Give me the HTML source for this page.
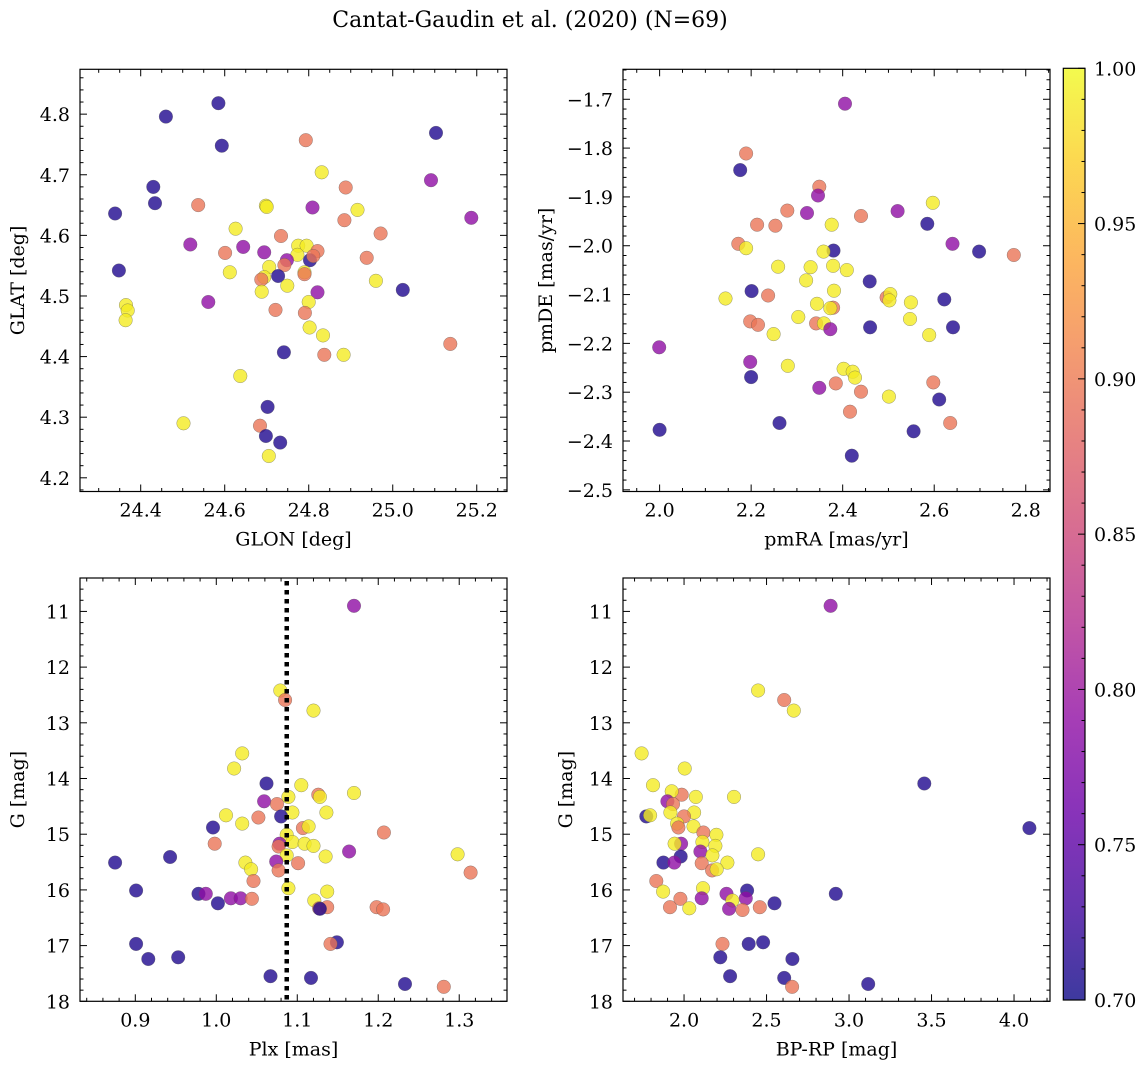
<!DOCTYPE html>
<html><head><meta charset="utf-8"><style>
html,body{margin:0;padding:0;background:#fff;}
svg{display:block;font-family:"DejaVu Serif","Liberation Serif",serif;}
</style></head><body>
<svg id="fig" width="1148" height="1068" viewBox="0 0 1148 1068" xmlns="http://www.w3.org/2000/svg">
<defs>
<linearGradient id="plasma" x1="0" y1="1" x2="0" y2="0">
<stop offset="0" stop-color="#0d0887"/><stop offset="0.1" stop-color="#41049d"/><stop offset="0.2" stop-color="#6a00a8"/><stop offset="0.3" stop-color="#8f0da4"/><stop offset="0.4" stop-color="#b12a90"/><stop offset="0.5" stop-color="#cc4778"/><stop offset="0.6" stop-color="#e16462"/><stop offset="0.7" stop-color="#f2844b"/><stop offset="0.8" stop-color="#fca636"/><stop offset="0.9" stop-color="#fcce25"/><stop offset="1" stop-color="#f0f921"/>
</linearGradient>
</defs>
<text x="530" y="27" font-size="22" text-anchor="middle">Cantat-Gaudin et al. (2020) (N=69)</text>
</svg>
<script>
// membership probability codes: B=0.71, P=0.79, S=0.895, Y=0.99
const glon = [24.585,24.46,24.593,24.793,25.103,25.091,24.831,24.43,24.434,24.339,24.537,24.698,24.700,24.809,24.888,24.916,24.885,25.187,24.626,24.734,24.971,24.518,24.644,24.601,24.694,24.775,24.795,24.821,24.773,24.803,24.748,24.742,24.811,24.938,24.348,24.612,24.706,24.727,24.694,24.687,24.749,24.79,24.79,24.821,24.688,24.96,25.024,24.365,24.369,24.364,24.561,24.8,24.721,24.791,24.802,24.834,24.837,24.883,24.741,25.137,24.637,24.502,24.702,24.684,24.698,24.732,24.705];
const glat = [4.818,4.796,4.748,4.757,4.769,4.691,4.704,4.68,4.653,4.636,4.650,4.649,4.647,4.646,4.679,4.642,4.625,4.629,4.611,4.599,4.603,4.585,4.581,4.571,4.572,4.583,4.583,4.574,4.568,4.559,4.559,4.551,4.566,4.563,4.542,4.539,4.548,4.533,4.531,4.527,4.517,4.539,4.536,4.506,4.507,4.525,4.51,4.485,4.476,4.46,4.49,4.49,4.477,4.472,4.448,4.435,4.403,4.403,4.407,4.421,4.368,4.290,4.317,4.286,4.269,4.258,4.236];
const prob1 = "BBBSBPYBBBSYYPSYSPYSSPPSPYYSYBPSSSBYYBYSYYSPYYBYYYPYSSYYSYBSYYBSBBY";

const pmra = [2.405,2.189,2.176,2.349,2.346,2.279,2.322,2.213,2.253,2.376,2.44,2.52,2.597,2.585,2.172,2.189,2.38,2.358,2.64,2.698,2.774,2.259,2.33,2.379,2.409,2.32,2.459,2.201,2.381,2.237,2.144,2.496,2.504,2.502,2.622,2.549,2.344,2.379,2.373,2.303,2.198,2.215,2.342,2.359,2.373,2.46,2.547,2.641,2.249,2.589,1.999,2.198,2.2,2.28,2.402,2.422,2.427,2.385,2.598,2.349,2.44,2.501,2.611,2.416,2.262,2.635,2.0,2.555,2.42];
const pmde = [-1.709,-1.811,-1.845,-1.879,-1.897,-1.928,-1.933,-1.957,-1.959,-1.957,-1.939,-1.929,-1.912,-1.955,-1.996,-2.005,-2.01,-2.012,-1.996,-2.012,-2.019,-2.043,-2.044,-2.041,-2.05,-2.071,-2.073,-2.093,-2.092,-2.102,-2.108,-2.106,-2.099,-2.112,-2.11,-2.116,-2.119,-2.127,-2.128,-2.146,-2.155,-2.162,-2.159,-2.159,-2.171,-2.167,-2.15,-2.167,-2.181,-2.183,-2.208,-2.238,-2.269,-2.246,-2.252,-2.258,-2.27,-2.282,-2.28,-2.291,-2.299,-2.309,-2.315,-2.34,-2.363,-2.363,-2.377,-2.38,-2.43];
const prob2 = "PSBSPSPSSYSPYBSYBYPBSYYYYYBBYSYSYYBYYSYYSSSYPBYBYYPPBYYYYSSPSYBSBSBBB";

const plx = [1.17,1.079,1.085,1.12,1.032,1.022,1.062,1.105,1.17,1.126,1.128,1.089,1.059,1.075,1.094,1.136,1.012,1.052,1.08,1.032,1.107,1.114,0.996,1.207,1.087,1.094,1.078,1.109,1.12,1.077,0.998,1.164,1.298,1.135,1.087,0.943,0.875,1.036,1.101,1.074,1.043,1.077,1.314,1.046,1.089,1.137,0.901,0.978,0.987,1.018,1.03,1.044,1.002,1.121,1.137,1.127,1.128,1.198,1.206,0.901,1.149,1.141,0.916,0.953,1.067,1.117,1.233,1.281];
const gmag3 = [10.9,12.42,12.59,12.78,13.55,13.82,14.09,14.12,14.26,14.29,14.33,14.33,14.41,14.46,14.61,14.61,14.66,14.7,14.68,14.81,14.89,14.86,14.88,14.97,15.01,15.14,15.17,15.17,15.21,15.22,15.17,15.31,15.36,15.4,15.38,15.41,15.51,15.51,15.52,15.49,15.63,15.65,15.69,15.84,15.97,16.03,16.01,16.07,16.07,16.15,16.15,16.16,16.24,16.19,16.31,16.33,16.34,16.31,16.35,16.97,16.94,16.97,17.24,17.21,17.55,17.58,17.69,17.74];
const prob3 = "PYSYYYBYYSYYPSYYYSBYSYBSYYPYYSSPYYYBBYSPYSSSYYBBPPPSBYSSBSSBBSBBBBBS";

const bprp = [2.888,2.449,2.607,2.665,1.743,2.004,1.812,3.456,2.303,2.071,1.986,1.925,1.899,1.933,1.771,1.794,1.917,2.061,2.0,1.958,1.966,2.057,2.117,4.093,2.196,2.111,2.19,1.982,1.943,2.099,2.449,2.172,1.98,1.875,1.941,2.107,2.263,2.17,2.198,1.832,2.115,1.873,2.382,2.92,2.257,2.107,2.374,1.978,2.548,2.293,1.915,2.032,2.273,2.354,2.459,2.233,2.392,2.479,2.22,2.657,2.279,2.607,3.116,2.655];
const gmag4 = [10.9,12.42,12.59,12.78,13.55,13.82,14.12,14.09,14.33,14.33,14.29,14.23,14.41,14.46,14.68,14.66,14.61,14.61,14.68,14.81,14.88,14.86,14.97,14.89,15.01,15.14,15.21,15.17,15.17,15.31,15.36,15.38,15.4,15.51,15.51,15.52,15.51,15.65,15.63,15.84,15.97,16.03,16.01,16.07,16.07,16.15,16.15,16.16,16.24,16.19,16.31,16.33,16.34,16.36,16.31,16.97,16.97,16.94,17.21,17.24,17.55,17.58,17.69,17.74];
const prob4 = "PYSYYYYBYYSYPSBYYYSYSYSBYYYPYPYYBBPSYSYSYYBBPPPSBYSYPSSSBBBBBBBS";

const codeVal = {B:0.71,P:0.79,S:0.895,Y:0.99};
const plasmaStops = ["#0d0887","#41049d","#6a00a8","#8f0da4","#b12a90","#cc4778","#e16462","#f2844b","#fca636","#fcce25","#f0f921"];
function hex(h){return [parseInt(h.substr(1,2),16),parseInt(h.substr(3,2),16),parseInt(h.substr(5,2),16)];}
function cmap(v){
  let t=Math.max(0,Math.min(1,(v-0.7)/0.3))*10; let i=Math.min(9,Math.floor(t)); let f=t-i;
  const a=hex(plasmaStops[i]), b=hex(plasmaStops[i+1]);
  return "rgb("+a.map((c,k)=>Math.round(c+(b[k]-c)*f)).join(",")+")";
}
const svg=document.getElementById("fig");
const NS="http://www.w3.org/2000/svg";
function mk(tag,attrs,parent){const e=document.createElementNS(NS,tag);for(const k in attrs)e.setAttribute(k,attrs[k]);(parent||svg).appendChild(e);return e;}
function fmt(v,d){let s=v.toFixed(d);return s.replace("-","\u2212");}
const TF=19, LF=19;

function panel(cfg,xs,ys,codes){
  const g=mk("g",{});
  
  
  const X=v=>cfg.L+(v-cfg.x0)/(cfg.x1-cfg.x0)*(cfg.R-cfg.L);
  const Y=cfg.flip? (v=>cfg.T+(v-cfg.y0)/(cfg.y1-cfg.y0)*(cfg.B-cfg.T)) : (v=>cfg.B-(v-cfg.y0)/(cfg.y1-cfg.y0)*(cfg.B-cfg.T));
  for(let i=0;i<Math.min(xs.length,ys.length);i++){
    const c=mk("circle",{cx:X(xs[i]).toFixed(1),cy:Y(ys[i]).toFixed(1),r:6.8,fill:cmap(codeVal[codes[i]]||0.9),"fill-opacity":0.8,stroke:"#555","stroke-opacity":0.6,"stroke-width":0.5},g);
    
    
  }
  if(cfg.vline!==undefined){
    const l=mk("line",{x1:X(cfg.vline),x2:X(cfg.vline),y1:cfg.T+3,y2:cfg.B,stroke:"#000","stroke-width":4.5,"stroke-dasharray":"4.5 4.5"},g);
    
    
  }
  const fr=mk("rect",{x:cfg.L,y:cfg.T,width:cfg.R-cfg.L,height:cfg.B-cfg.T,fill:"none",stroke:"#000","stroke-width":1.2},g);
  
  
  const eps=1e-9;
  for(let v=Math.ceil(cfg.x0/cfg.xm-eps)*cfg.xm; v<=cfg.x1+eps; v+=cfg.xm){
    const major=Math.abs(v/cfg.xM-Math.round(v/cfg.xM))<1e-6; const len=major?7:3.5; const px=X(v);
    mk("line",{x1:px,x2:px,y1:cfg.B,y2:cfg.B-len,stroke:"#000","stroke-width":1},g);
    mk("line",{x1:px,x2:px,y1:cfg.T,y2:cfg.T+len,stroke:"#000","stroke-width":1},g);
    if(major){const t=mk("text",{x:px,y:cfg.B+25,"font-size":TF,"text-anchor":"middle"},g);t.textContent=fmt(v,cfg.xd);
      
      }
  }
  for(let v=Math.ceil(Math.min(cfg.y0,cfg.y1)/cfg.ym-eps)*cfg.ym; v<=Math.max(cfg.y0,cfg.y1)+eps; v+=cfg.ym){
    const major=Math.abs(v/cfg.yM-Math.round(v/cfg.yM))<1e-6; const len=major?7:3.5; const py=Y(v);
    mk("line",{x1:cfg.L,x2:cfg.L+len,y1:py,y2:py,stroke:"#000","stroke-width":1},g);
    mk("line",{x1:cfg.R,x2:cfg.R-len,y1:py,y2:py,stroke:"#000","stroke-width":1},g);
    if(major){const t=mk("text",{x:cfg.L-10,y:py+7,"font-size":TF,"text-anchor":"end"},g);t.textContent=fmt(v,cfg.yd);
      
      }
  }
  const xl=mk("text",{x:(cfg.L+cfg.R)/2,y:cfg.B+54,"font-size":LF,"text-anchor":"middle"},g);xl.textContent=cfg.xlabel;
  
  
  const yc=(cfg.T+cfg.B)/2;
  const yl=mk("text",{x:cfg.ylx,y:yc,"font-size":LF,"text-anchor":"middle",transform:`rotate(-90 ${cfg.ylx} ${yc})`},g);yl.textContent=cfg.ylabel;
  
  
}

panel({name:"glon-glat-panel",L:80,R:507,T:69.3,B:491.5,x0:24.2555,x1:25.272,y0:4.1774,y1:4.874,xM:0.2,xm:0.05,yM:0.1,ym:0.02,xd:1,yd:1,xlabel:"GLON [deg]",ylabel:"GLAT [deg]",ylx:24},glon,glat,prob1);
panel({name:"proper-motion-panel",L:623,R:1050,T:69.3,B:491.5,x0:1.92,x1:2.853,y0:-2.5034,y1:-1.6386,xM:0.2,xm:0.05,yM:0.1,ym:0.02,xd:1,yd:1,xlabel:"pmRA [mas/yr]",ylabel:"pmDE [mas/yr]",ylx:552},pmra,pmde,prob2);
panel({name:"parallax-mag-panel",L:80,R:507,T:578,B:1001.3,x0:0.8317,x1:1.359,y0:10.40,y1:18,flip:true,xM:0.1,xm:0.02,yM:1,ym:0.2,xd:1,yd:0,xlabel:"Plx [mas]",ylabel:"G [mag]",ylx:24,vline:1.087},plx,gmag3,prob3);
panel({name:"cmd-panel",L:623,R:1050,T:578,B:1001.3,x0:1.63,x1:4.218,y0:10.40,y1:18,flip:true,xM:0.5,xm:0.1,yM:1,ym:0.2,xd:1,yd:0,xlabel:"BP-RP [mag]",ylabel:"G [mag]",ylx:572},bprp,gmag4,prob4);

const cbTicks=[0.70,0.75,0.80,0.85,0.90,0.95,1.00];
const cb=mk("g",{});


const cT=68.3,cB=1000,cL=1063.3,cR=1085;
mk("rect",{x:cL,y:cT,width:cR-cL,height:cB-cT,fill:"url(#plasma)","fill-opacity":0.8},cb);
mk("rect",{x:cL,y:cT,width:cR-cL,height:cB-cT,fill:"none",stroke:"#000","stroke-width":1.2},cb);
const CY=v=>cB-(v-0.7)/0.3*(cB-cT);
for(let k=0;k<=30;k++){const v=0.7+k*0.01;const py=CY(v);const major=k%5===0;
  mk("line",{x1:cR,x2:cR-(major?7:3.5),y1:py,y2:py,stroke:"#000","stroke-width":1},cb);}
cbTicks.forEach(v=>{const t=mk("text",{x:1094,y:CY(v)+7,"font-size":TF},cb);t.textContent=v.toFixed(2);
  
  });
</script>
</body></html>
